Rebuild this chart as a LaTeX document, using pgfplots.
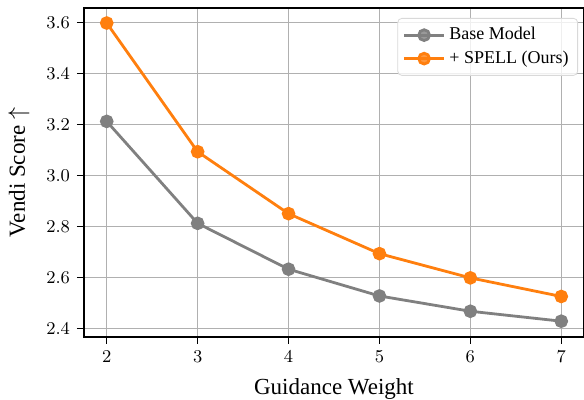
\documentclass[border=0pt]{standalone}
\usepackage{pgfplots}
\pgfplotsset{compat=1.18}
\usepackage{fontspec}
\setmainfont{Liberation Serif}
\definecolor{mplorange}{HTML}{FF7F0E}
\definecolor{mplgray}{HTML}{808080}
\definecolor{gridgray}{HTML}{B0B0B0}
\begin{document}
\begin{tikzpicture}
\useasboundingbox (-42pt,-31.5pt) rectangle (250pt,168.5pt);
\begin{axis}[
  scale only axis,
  width=250pt, height=164.5pt,
  xmin=1.75, xmax=7.25,
  ymin=2.366, ymax=3.657,
  xtick={2,3,4,5,6,7},
  ytick={2.4,2.6,2.8,3.0,3.2,3.4,3.6},
  yticklabel style={/pgf/number format/fixed,/pgf/number format/fixed zerofill,/pgf/number format/precision=1},
  tick label style={font=\fontsize{8.8}{10}\selectfont},
  tick align=outside,
  major tick length=3.5pt,
  tick style={black, line width=0.5pt},
  xtick pos=bottom, ytick pos=left,
  grid=major,
  major grid style={gridgray, line width=0.7pt},
  axis line style={black, line width=0.8pt},
  xlabel={Guidance Weight},
  ylabel={Vendi Score $\uparrow$},
  label style={font=\fontsize{11.5}{13}\selectfont},
  xlabel style={at={(axis description cs:0.5,0)}, anchor=north, yshift=-17pt},
  ylabel style={at={(axis description cs:0,0.5)}, anchor=center, yshift=32.5pt},
  legend style={at={(1,1)}, anchor=north east, xshift=-3pt, yshift=-5pt,
    draw=gray!30, rounded corners=2pt, fill=white, fill opacity=0.8, text opacity=1,
    font=\fontsize{9}{10.5}\selectfont, row sep=0pt, inner sep=2.5pt,
    /tikz/every even column/.append style={column sep=2pt}},
  legend cell align=left,
  legend image code/.code={
    \draw[#1, mark=none] (0cm,0cm) -- (0.7cm,0cm);
    \draw[#1, only marks] plot coordinates {(0.35cm,0cm)};
  },
]
\addplot[mplgray, line width=1.4pt, mark=*, mark size=2.7pt, mark options={solid, fill=mplgray, draw=mplgray}]
  coordinates {(2,3.212) (3,2.812) (4,2.632) (5,2.527) (6,2.467) (7,2.428)};
\addlegendentry{Base Model}
\addplot[mplorange, line width=1.4pt, mark=*, mark size=2.7pt, mark options={solid, fill=mplorange, draw=mplorange}]
  coordinates {(2,3.598) (3,3.093) (4,2.850) (5,2.693) (6,2.598) (7,2.525)};
\addlegendentry{+ SPELL (Ours)}
\end{axis}
\end{tikzpicture}
\end{document}
